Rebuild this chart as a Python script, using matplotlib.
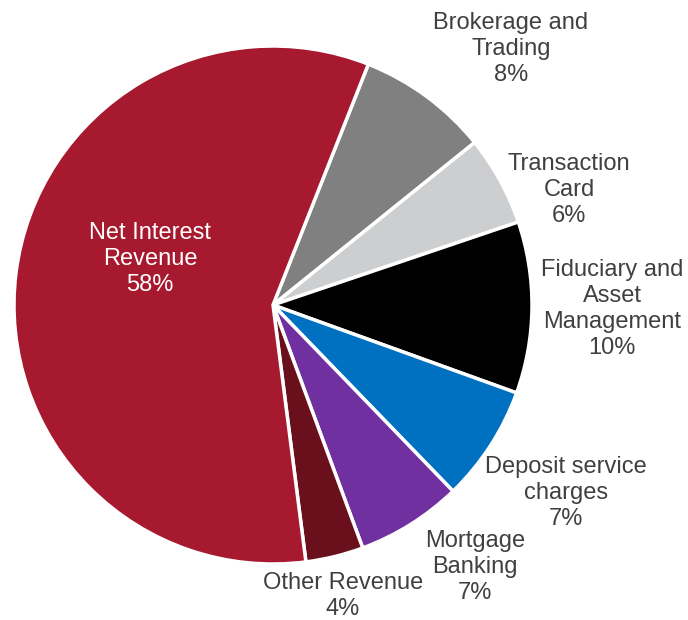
import matplotlib.pyplot as plt

plt.rcParams['font.family'] = ['Liberation Sans', 'DejaVu Sans']

# slice order clockwise, starting at the top-right edge of Net Interest Revenue
categories = ["Brokerage and\nTrading", "Transaction\nCard", "Fiduciary and\nAsset\nManagement",
              "Deposit service\ncharges", "Mortgage\nBanking", "Other Revenue", "Net Interest\nRevenue"]
shares = [8.2, 5.6, 10.7, 7.25, 6.6, 3.6, 58.0]
pct_labels = ["8%", "6%", "10%", "7%", "7%", "4%", "58%"]
colors = ["#808080", "#CDCECF", "#000000", "#0070C0", "#7030A0", "#6A0F1C", "#A6192E"]

# label anchor points (pixels, top-left origin)
label_xy = [(511, 49), (569, 190), (612, 309), (566, 493), (475, 567), (343, 596), (150, 259)]

W, H = 688, 620
fig = plt.figure(figsize=(W / 100, H / 100), dpi=100)
ax = fig.add_axes([0, 0, 1, 1])
ax.set_xlim(0, W)
ax.set_ylim(0, H)

cx, cy, r = 273, 305, 259
ax.pie(shares, colors=colors, startangle=90 - 21.6, counterclock=False,
       center=(cx, H - cy), radius=r, frame=True,
       wedgeprops=dict(edgecolor="white", linewidth=2.5))
ax.set_xlim(0, W)
ax.set_ylim(0, H)
ax.axis("off")

for i, (cat, pct) in enumerate(zip(categories, pct_labels)):
    x, y = label_xy[i]
    color = "white" if i == len(categories) - 1 else "#404040"
    ax.text(x, H - y, f"{cat}\n{pct}", ha="center", va="center", fontsize=17,
            color=color, linespacing=1.22)

fig.savefig("out.png", dpi=100)
